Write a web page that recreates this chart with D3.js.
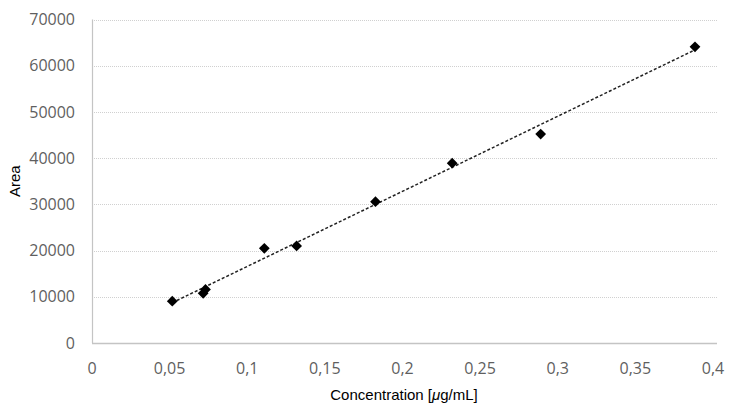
<!DOCTYPE html>
<html>
<head>
<meta charset="utf-8">
<script src="https://cdn.jsdelivr.net/npm/d3@7"></script>
<style>
  body { margin: 0; background: #fff; }
  svg { display: block; }
  .tick-label { font-family: "Open Sans", sans-serif; font-size: 16px; fill: #5f5f5f; }
  .axis-title { font-family: "Liberation Sans", Arial, sans-serif; font-size: 15px; fill: #000; }
</style>
</head>
<body>
<svg id="chart" width="729" height="403"></svg>
<script>
// concentration in ug/mL
const concentration = [0.0517, 0.0716, 0.0731, 0.111, 0.1318, 0.1826, 0.232, 0.289, 0.3884];
// peak area
const area = [9040, 10760, 11600, 20500, 21000, 30580, 38900, 45200, 64100];
const xTicks = [0, 0.05, 0.1, 0.15, 0.2, 0.25, 0.3, 0.35, 0.4];
const yTicks = [0, 10000, 20000, 30000, 40000, 50000, 60000, 70000];

const svg = d3.select('#chart');
const x = d3.scaleLinear().domain([0, 0.4]).range([92, 713]);
const y = d3.scaleLinear().domain([0, 70000]).range([343, 19.5]);

const fmtX = (d) => String(d).replace('.', ',');

// gridlines (dotted)
svg.append('g')
  .selectAll('line')
  .data(yTicks.filter((d) => d > 0))
  .join('line')
  .attr('x1', x(0))
  .attr('x2', x(0.4) + 4)
  .attr('y1', (d) => Math.round(y(d)) + 0.5)
  .attr('y2', (d) => Math.round(y(d)) + 0.5)
  .attr('stroke', '#d0d0d0')
  .attr('stroke-dasharray', '1,1');

// axes lines
svg.append('line')
  .attr('x1', x(0) + 0.5).attr('x2', x(0) + 0.5)
  .attr('y1', y(70000)).attr('y2', y(0))
  .attr('stroke', '#c4c4c4').attr('stroke-width', 1.2);
svg.append('line')
  .attr('x1', x(0)).attr('x2', x(0.4) + 4)
  .attr('y1', y(0) + 0.5).attr('y2', y(0) + 0.5)
  .attr('stroke', '#c4c4c4').attr('stroke-width', 1.5);

// tick labels
svg.append('g')
  .selectAll('text')
  .data(yTicks)
  .join('text')
  .attr('class', 'tick-label')
  .attr('x', 75)
  .attr('y', (d) => y(d))
  .attr('dy', '0.35em')
  .attr('text-anchor', 'end')
  .text((d) => d);

svg.append('g')
  .selectAll('text')
  .data(xTicks)
  .join('text')
  .attr('class', 'tick-label')
  .attr('x', (d) => x(d))
  .attr('y', 374)
  .attr('text-anchor', 'middle')
  .text(fmtX);

// axis titles
svg.append('text')
  .attr('class', 'axis-title')
  .attr('transform', `translate(20,${(y(0) + y(70000)) / 2}) rotate(-90)`)
  .attr('text-anchor', 'middle')
  .text('Area');

const xt = svg.append('text')
  .attr('class', 'axis-title')
  .attr('x', 404)
  .attr('y', 400)
  .attr('text-anchor', 'middle');
xt.append('tspan').text('Concentration [');
xt.append('tspan').attr('font-style', 'italic').text('\u03bc');
xt.append('tspan').text('g/mL]');

// linear trendline
const mx = d3.mean(concentration);
const my = d3.mean(area);
const slope = d3.sum(concentration, (c, i) => (c - mx) * (area[i] - my)) /
  d3.sum(concentration, (c) => (c - mx) * (c - mx));
const intercept = my - slope * mx;
const xExt = d3.extent(concentration);
svg.append('line')
  .attr('x1', x(xExt[0])).attr('y1', y(intercept + slope * xExt[0]))
  .attr('x2', x(xExt[1])).attr('y2', y(intercept + slope * xExt[1]))
  .attr('stroke', '#222')
  .attr('stroke-width', 1.5)
  .attr('stroke-dasharray', '3,2');

// markers (diamonds)
const diamond = d3.symbol().type(d3.symbolSquare).size(58);
svg.append('g')
  .selectAll('path')
  .data(concentration.map((c, i) => ({ c, a: area[i] })))
  .join('path')
  .attr('d', diamond)
  .attr('transform', (d) => `translate(${x(d.c)},${y(d.a)}) rotate(45)`)
  .attr('fill', '#000');
</script>
</body>
</html>
